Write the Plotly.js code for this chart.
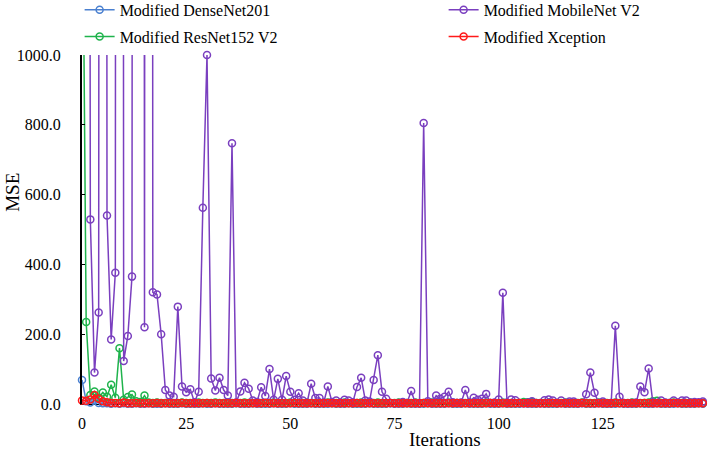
<!DOCTYPE html>
<html>
<head>
<meta charset="utf-8">
<script src="https://cdn.plot.ly/plotly-3.0.1.min.js"></script>
<style>html,body{margin:0;padding:0;background:#fff;}#chart{width:712px;height:450px;}</style>
</head>
<body>
<div id="chart"></div>
<script>
// Iterations 0..149
const iterations = Array.from({length: 150}, (_, i) => i);

const seriesNames = ["Modified DenseNet201", "Modified MobileNet V2", "Modified ResNet152 V2", "Modified Xception"];

const denseNet201 = [
  69, 8, 4, 10, 3, 2, 2, 1, 2, 1,
  2, 1, 1, 2, 1, 1, 2, 1, 1, 1,
  2, 1, 1, 1, 2, 1, 1, 1, 1, 2,
  1, 1, 2, 1, 1, 1, 1, 2, 1, 1,
  1, 2, 1, 1, 1, 1, 2, 1, 1, 1,
  2, 1, 1, 1, 1, 2, 1, 1, 1, 1,
  2, 1, 1, 1, 2, 1, 1, 1, 1, 2,
  1, 1, 1, 1, 2, 1, 1, 1, 2, 1,
  1, 1, 1, 2, 1, 1, 1, 1, 2, 1,
  1, 1, 2, 1, 1, 1, 1, 2, 1, 1,
  1, 2, 1, 1, 1, 1, 2, 1, 1, 1,
  2, 1, 1, 1, 1, 2, 1, 1, 1, 1,
  2, 1, 1, 1, 2, 1, 1, 1, 1, 2,
  1, 1, 1, 1, 2, 1, 1, 1, 2, 1,
  1, 1, 1, 2, 1, 1, 1, 1, 2, 1
];

const mobileNetV2 = [
  20000, 20000, 529, 90, 262, 20000, 540, 185, 376, 20000,
  123, 195, 365, 20000, 20000, 220, 20000, 320, 314, 200,
  40, 24, 21, 279, 50, 34, 42, 5, 35, 562,
  1000, 73, 39, 75, 40, 24, 747, 4, 36, 61,
  44, 10, 6, 48, 23, 100, 12, 72, 12, 80,
  35, 12, 31, 10, 3, 58, 17, 17, 4, 50,
  6, 10, 4, 12, 10, 5, 49, 75, 10, 7,
  69, 140, 35, 15, 3, 2, 3, 6, 3, 37,
  3, 2, 805, 8, 3, 24, 15, 21, 35, 5,
  3, 4, 40, 4, 18, 12, 15, 29, 3, 4,
  13, 319, 4, 13, 11, 3, 2, 4, 8, 3,
  2, 11, 13, 10, 3, 10, 3, 7, 7, 2,
  3, 28, 90, 32, 3, 7, 2, 3, 224, 21,
  3, 2, 3, 4, 50, 34, 102, 5, 3, 10,
  4, 3, 10, 4, 10, 10, 4, 6, 5, 7
];

const resNet152V2 = [
  1700, 235, 26, 36, 18, 33, 21, 55, 18, 160,
  12, 20, 27, 8, 6, 24, 4, 3, 4, 3,
  3, 4, 3, 3, 4, 3, 3, 3, 4, 3,
  3, 3, 4, 3, 3, 4, 3, 3, 3, 4,
  3, 3, 4, 3, 3, 3, 4, 3, 3, 3,
  4, 3, 3, 3, 4, 3, 3, 3, 3, 4,
  3, 3, 3, 4, 3, 3, 3, 4, 3, 3,
  3, 4, 3, 3, 3, 3, 4, 3, 3, 3,
  4, 3, 3, 3, 4, 3, 3, 3, 4, 3,
  3, 3, 3, 4, 3, 3, 3, 4, 3, 3,
  3, 4, 3, 3, 3, 3, 6, 5, 6, 3,
  3, 3, 4, 3, 3, 3, 4, 3, 3, 3,
  4, 3, 3, 3, 4, 3, 3, 3, 4, 3,
  3, 3, 4, 3, 3, 3, 4, 8, 9, 3,
  3, 3, 4, 3, 3, 3, 4, 3, 3, 3
];

const xception = [
  10, 9, 13, 26, 15, 8, 5, 3, 3, 2,
  4, 2, 2, 3, 2, 2, 2, 2, 3, 2,
  2, 2, 2, 2, 3, 2, 2, 2, 2, 2,
  3, 2, 2, 2, 2, 2, 2, 3, 2, 2,
  2, 2, 2, 2, 3, 2, 2, 2, 2, 2,
  2, 3, 2, 2, 2, 2, 2, 2, 2, 3,
  2, 2, 2, 2, 2, 2, 3, 2, 2, 2,
  2, 2, 2, 2, 3, 2, 2, 2, 2, 2,
  2, 2, 3, 2, 2, 2, 2, 2, 2, 2,
  3, 2, 2, 2, 2, 2, 2, 2, 3, 2,
  2, 2, 2, 2, 2, 3, 2, 2, 2, 2,
  2, 2, 2, 3, 2, 2, 2, 2, 2, 2,
  3, 2, 2, 2, 2, 2, 2, 2, 3, 2,
  2, 2, 2, 2, 2, 3, 2, 2, 2, 2,
  2, 2, 3, 2, 2, 2, 2, 2, 2, 2
];

const yTickValues = [0, 200, 400, 600, 800, 1000];
const xTickValues = [0, 25, 50, 75, 100, 125];

const colors = ["#4a80d0", "#7a3fbf", "#1fb34c", "#ff1a1a"];
const seriesData = [denseNet201, mobileNetV2, resNet152V2, xception];
const legendOf = ["legend", "legend2", "legend", "legend2"];

const FONT = "Liberation Serif";

const traces = seriesData.map((vals, k) => ({
  type: "scatter",
  mode: "lines+markers",
  name: seriesNames[k],
  legend: legendOf[k],
  legendgroup: "g" + k,
  x: iterations,
  y: vals,
  cliponaxis: false,
  line: {color: colors[k], width: 1.5},
  marker: {symbol: "circle-open", size: 7, color: colors[k], line: {width: 1.5, color: colors[k]}}
}));

// draw order: DenseNet, ResNet, MobileNet, Xception on top
const order = [0, 2, 1, 3];
const drawn = order.map(i => Object.assign({}, traces[i], {legendrank: i + 1}));

const legendFont = {family: FONT, size: 16, color: "#000"};

const layout = {
  width: 712,
  height: 450,
  margin: {l: 82, r: 5, t: 55, b: 46, autoexpand: false},
  paper_bgcolor: "#ffffff",
  plot_bgcolor: "#ffffff",
  font: {family: FONT, size: 16, color: "#000"},
  showlegend: true,
  legend: {
    orientation: "v",
    xref: "paper", yref: "paper",
    x: -0.0038, y: 1.178, xanchor: "left", yanchor: "top",
    font: legendFont,
    tracegroupgap: 3,
    bgcolor: "rgba(0,0,0,0)",
    traceorder: "grouped"
  },
  legend2: {
    orientation: "v",
    xref: "paper", yref: "paper",
    x: 0.5786, y: 1.178, xanchor: "left", yanchor: "top",
    font: legendFont,
    tracegroupgap: 3,
    bgcolor: "rgba(0,0,0,0)",
    traceorder: "grouped"
  },
  xaxis: {
    range: [0, 150],
    tickvals: xTickValues,
    ticks: "",
    showgrid: false,
    zeroline: false,
    showline: true,
    linecolor: "#000",
    linewidth: 1,
    layer: "below traces",
    ticklabelstandoff: 5,
    tickfont: {family: FONT, size: 16, color: "#000"},
    automargin: false
  },
  yaxis: {
    range: [0, 1000],
    tickvals: yTickValues,
    tickformat: ".1f",
    ticks: "inside",
    ticklen: 3,
    tickcolor: "#000",
    showgrid: false,
    zeroline: false,
    showline: true,
    linecolor: "#000",
    linewidth: 2,
    ticklabelstandoff: 16,
    tickfont: {family: FONT, size: 16, color: "#000"},
    automargin: false
  },
  annotations: [
    {text: "MSE", xref: "paper", yref: "paper", x: -0.111, y: 0.607, xanchor: "center", yanchor: "middle",
     textangle: -90, showarrow: false, font: {family: FONT, size: 19, color: "#000"}},
    {text: "Iterations", xref: "paper", yref: "paper", x: 0.581, y: -0.101, xanchor: "center", yanchor: "middle",
     showarrow: false, font: {family: FONT, size: 19, color: "#000"}}
  ]
};

Plotly.newPlot("chart", drawn, layout, {displayModeBar: false, staticPlot: true});
</script>
</body>
</html>
